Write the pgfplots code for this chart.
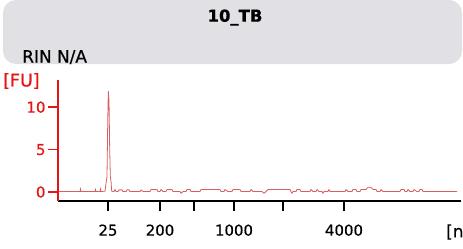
\documentclass[border=0pt]{standalone}
\usepackage{fontspec}
\setmainfont{DejaVu Sans}[FakeBold=0.5]
\usepackage{pgfplots}
\pgfplotsset{compat=1.18}
\definecolor{boxgray}{RGB}{225,224,229}
\definecolor{axred}{RGB}{230,20,20}
\definecolor{linered}{RGB}{215,95,95}
\begin{document}
\begin{tikzpicture}[x=1bp,y=1bp]
\useasboundingbox (0,0) rectangle (463,248);
\fill[boxgray,rounded corners=13bp] (3,248-64) rectangle (462,248);
\node[font=\bfseries\fontsize{16.5}{19}\selectfont] at (235,248-17.5) {10\_TB};
\node[anchor=base west,font=\fontsize{17}{20}\selectfont,inner sep=0pt] at (22,248-62.5) {RIN N/A};
\begin{axis}[
  at={(58bp,47bp)}, anchor=south west,
  scale only axis, width=403bp, height=121bp,
  xmin=58, xmax=461, ymin=-1.06, ymax=13.2,
  axis x line=bottom, axis y line=left,
  axis line style={-, line width=1.6pt},
  x axis line style={black},
  y axis line style={axred},
  xtick={108,160,194,234,283,344},
  xticklabels={25,200,,1000,,4000},
  ytick={0,5,10},
  tick align=outside,
  major tick length=10bp,
  x tick style={black, line width=1.4pt},
  y tick style={axred, line width=1.4pt},
  yticklabel style={axred, font=\fontsize{15}{17}\selectfont, xshift=1bp},
  xticklabel style={black, font=\fontsize{15}{17}\selectfont, yshift=-10bp},
  /pgf/number format/assume math mode=true,
  clip=false,
]
\addplot[linered, line width=0.8pt] coordinates {
(59,0.05)(80,0.05)(80.5,0.35)(81,0.05)(95,0.05)(95.5,0.3)(96,0.05)(100,0.05)(100.5,0.35)(101,0.05)
(105,0.1)(106,1.0)(107,1.8)(107.7,8)(108.3,11.9)(109,10.8)(109.7,5)(110.3,1.8)(111,1.3)(111.7,0.1)
(114,0.05)(115,0.3)(116,0.05)(118,0.05)(119,0.25)(122,0.25)(123,0.05)(126,0.05)(127,0.25)(129,0.25)(130,0.05)(134,0.05)
(140,0.05)(141,0.25)(143,0.05)(150,0.05)(151,0.3)(157,0.3)(158,0.05)(160,0.05)(161,0.3)(163,0.05)(166,0.05)(167,0.3)(172,0.3)(173,0.05)
(180,0.05)(181,-0.15)(183,0.05)(186,0.05)(187,0.3)(190,0.3)(191,0.05)(200,0.05)(201,0.3)(220,0.3)(221,0.05)(224,0.05)(225,0.3)(228,0.05)(232,0.05)(233,0.3)(240,0.3)(241,0.05)(250,0.05)(251,0.3)(253,0.05)
(262,0.05)(264,-0.15)(266,0.05)(268,0.3)(290,0.3)(291,0.05)(292,-0.15)(293,0.05)(296,0.05)(297,0.3)(300,0.3)(301,0.05)(310,0.05)(311,0.3)(313,0.05)(316,0.05)(317,0.3)(319,0.05)(322,0.05)(323,-0.15)(324,0.05)(328,0.05)(329,0.3)(330,0.05)
(345,0.05)(346,0.3)(348,0.05)(352,0.05)(353,0.3)(356,0.3)(357,0.05)(360,0.05)(361,0.3)(364,0.3)(366,0.3)(368,0.55)(371,0.55)(373,0.3)(376,0.3)(377,0.05)(380,0.05)(381,0.3)(383,0.05)(385,0.05)
(400,0.05)(401,0.3)(404,0.3)(405,0.05)(407,0.05)(408,0.3)(410,0.05)(413,0.05)(414,0.3)(417,0.05)(419,0.05)(420,0.3)(422,0.3)(423,0.05)(457,0.05)
};
\end{axis}
\node[axred, anchor=west, font=\fontsize{17.5}{20}\selectfont, inner sep=0pt] at (3,248-81) {[FU]};
\node[black, anchor=west, font=\fontsize{17}{19}\selectfont, inner sep=0pt] at (446,248-232) {[nt]};
\end{tikzpicture}
\end{document}
